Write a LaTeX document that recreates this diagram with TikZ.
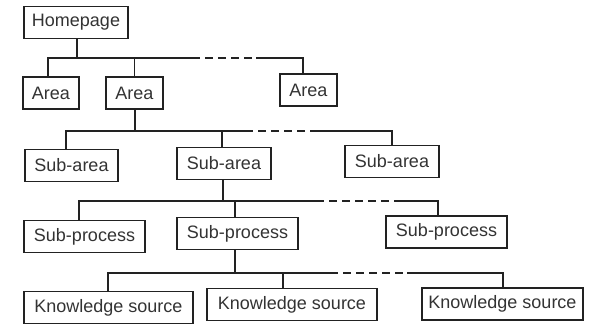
\documentclass[tikz,border=0pt]{standalone}
\usepackage{fontspec}
\setmainfont{Liberation Sans}
\definecolor{ink}{HTML}{222222}
\definecolor{txt}{HTML}{333333}
\begin{document}
\begin{tikzpicture}[x=1pt,y=-1pt,
  box/.style={draw=ink, line width=1.8pt, text=txt, inner sep=0pt,
    minimum height=32pt, font=\fontsize{18}{21}\selectfont},
  link/.style={draw=ink, line width=1.8pt, line cap=rect},
  gap/.style={draw=ink, line width=1.8pt, dash pattern=on 8pt off 5pt}]
\useasboundingbox (0,0) rectangle (590,325);

% boxes
\node[box, minimum width=104pt] (home) at (76,22.5) {Homepage};

\node[box, minimum width=56pt]  (a1) at (51,93)    {Area};
\node[box, minimum width=57pt]  (a2) at (134.5,93) {Area};
\node[box, minimum width=57pt]  (a3) at (308.5,90) {Area};

\node[box, minimum width=93pt]  (s1) at (71.5,165.5) {Sub-area};
\node[box, minimum width=94pt]  (s2) at (224,163.5)  {Sub-area};
\node[box, minimum width=94pt]  (s3) at (392,161.5)  {Sub-area};

\node[box, minimum width=121pt] (p1) at (84.5,236.5) {Sub-process};
\node[box, minimum width=121pt] (p2) at (237.5,233.5) {Sub-process};
\node[box, minimum width=121pt] (p3) at (446.5,232)  {Sub-process};

\node[box, minimum width=169pt] (k1) at (108.5,307.5) {Knowledge source};
\node[box, minimum width=170pt] (k2) at (292,304.5)   {Knowledge source};
\node[box, minimum width=161pt] (k3) at (502.5,304)   {Knowledge source};

% branch levels and the dashed stretches on them
\coordinate (l1) at (0,58);
\coordinate (l2) at (0,131);
\coordinate (l3) at (0,201);
\coordinate (l4) at (0,273);
\coordinate (d1a) at (192,58);  \coordinate (d1b) at (257,58);
\coordinate (d2a) at (245,131); \coordinate (d2b) at (315,131);
\coordinate (d3a) at (316,201); \coordinate (d3b) at (397,201);
\coordinate (d4a) at (330,273); \coordinate (d4b) at (408,273);

% Homepage -> areas
\draw[link] ([xshift=1pt]home.south) -- ([xshift=1pt]home.south |- l1);
\draw[link] ([xshift=-3pt]a1.north) |- (d1a);
\draw[gap]  (d1a) -- (d1b);
\draw[link] (d1b) -| ([xshift=-5.5pt]a3.north);
\draw[link] (a2.north) -- (a2.north |- l1);

% Area -> sub-areas
\draw[link] ([xshift=0.5pt]a2.south) -- ([xshift=0.5pt]a2.south |- l2);
\draw[link] ([xshift=-5.5pt]s1.north) |- (d2a);
\draw[gap]  (d2a) -- (d2b);
\draw[link] (d2b) -| (s3.north);
\draw[link] ([xshift=-2pt]s2.north) -- ([xshift=-2pt]s2.north |- l2);

% Sub-area -> sub-processes
\draw[link] ([xshift=-1pt]s2.south) -- ([xshift=-1pt]s2.south |- l3);
\draw[link] ([xshift=-5.5pt]p1.north) |- (d3a);
\draw[gap]  (d3a) -- (d3b);
\draw[link] (d3b) -| ([xshift=-8.5pt]p3.north);
\draw[link] ([xshift=-2.5pt]p2.north) -- ([xshift=-2.5pt]p2.north |- l3);

% Sub-process -> knowledge sources
\draw[link] ([xshift=-2.5pt]p2.south) -- ([xshift=-2.5pt]p2.south |- l4);
\draw[link] ([xshift=-0.5pt]k1.north) |- (d4a);
\draw[gap]  (d4a) -- (d4b);
\draw[link] (d4b) -| ([xshift=0.5pt]k3.north);
\draw[link] ([xshift=-9pt]k2.north) -- ([xshift=-9pt]k2.north |- l4);
\end{tikzpicture}
\end{document}
